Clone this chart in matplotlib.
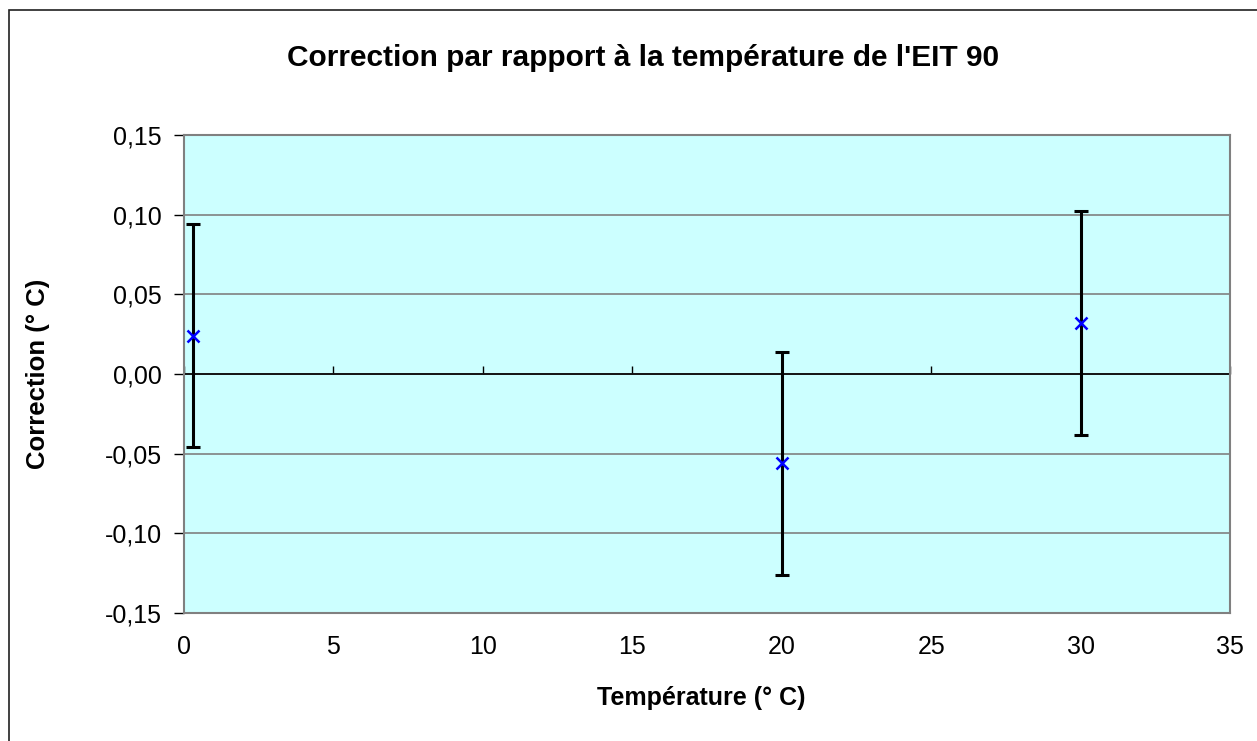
import matplotlib
matplotlib.use("Agg")
import matplotlib.pyplot as plt
from matplotlib.ticker import FuncFormatter
from matplotlib.patches import Rectangle

# Data
temperatures = [0.3, 20.0, 30.0]
corrections = [0.024, -0.056, 0.032]
uncertainties = [0.07, 0.07, 0.07]
x_ticks = [0, 5, 10, 15, 20, 25, 30, 35]
y_ticks = [-0.15, -0.10, -0.05, 0.00, 0.05, 0.10, 0.15]

title = "Correction par rapport à la température de l'EIT 90"
xlabel = "Température (° C)"
ylabel = "Correction (° C)"

plt.rcParams['font.family'] = ['Liberation Sans', 'DejaVu Sans']

W, H = 1257, 741
fig = plt.figure(figsize=(W / 100, H / 100), dpi=100)
ax = fig.add_axes([184 / W, 1 - 613 / H, (1230 - 184) / W, (613 - 135) / H])
ax.set_facecolor('#CCFFFF')

# Outer chart border
fig.patches.append(Rectangle((9 / W, -0.1), 1.2, 1 - 10 / H + 0.1, transform=fig.transFigure,
                             fill=False, edgecolor='#202020', linewidth=1.2, zorder=0))

ax.set_xlim(0, 35)
ax.set_ylim(-0.15, 0.15)
ax.set_xticks(x_ticks)
ax.set_yticks(y_ticks)
ax.yaxis.set_major_formatter(FuncFormatter(lambda v, p: f"{v:.2f}".replace('.', ',')))
ax.xaxis.set_major_formatter(FuncFormatter(lambda v, p: f"{int(round(v))}"))

ax.grid(axis='y', color='#808080', linewidth=1.2, zorder=1)
ax.set_axisbelow(True)
ax.axhline(0, color='black', linewidth=1.2, zorder=2)

for s in ['top', 'right', 'bottom', 'left']:
    ax.spines[s].set_color('#808080')
    ax.spines[s].set_linewidth(1.5)

ax.tick_params(axis='y', direction='out', length=7, width=1, color='black', labelsize=18, pad=9)
ax.tick_params(axis='x', length=0, labelsize=18, pad=15.5)

sec = ax.secondary_xaxis(0.5)
sec.set_xticks(x_ticks)
sec.tick_params(direction='out', length=6, width=1, color='black', labelbottom=False, labeltop=False)
sec.spines['bottom'].set_visible(False)
sec.spines['top'].set_visible(False)

ax.errorbar(temperatures, corrections, yerr=uncertainties, fmt='none', ecolor='black',
            elinewidth=2.2, capsize=5, capthick=2.2, zorder=3)
ax.plot(temperatures, corrections, linestyle='none', marker='x', color='#0000FF',
        markersize=9, markeredgewidth=1.8, zorder=4)

fig.text(643 / W, 1 - 58 / H, title, ha='center', va='center',
         fontsize=21.5, fontweight='bold')
fig.text(701 / W, 1 - 698 / H, xlabel, ha='center', va='center',
         fontsize=18, fontweight='bold')
fig.text(38 / W, 1 - 374 / H, ylabel, ha='center', va='center', rotation=90,
         fontsize=18.5, fontweight='bold')

fig.savefig('out.png', dpi=100)
